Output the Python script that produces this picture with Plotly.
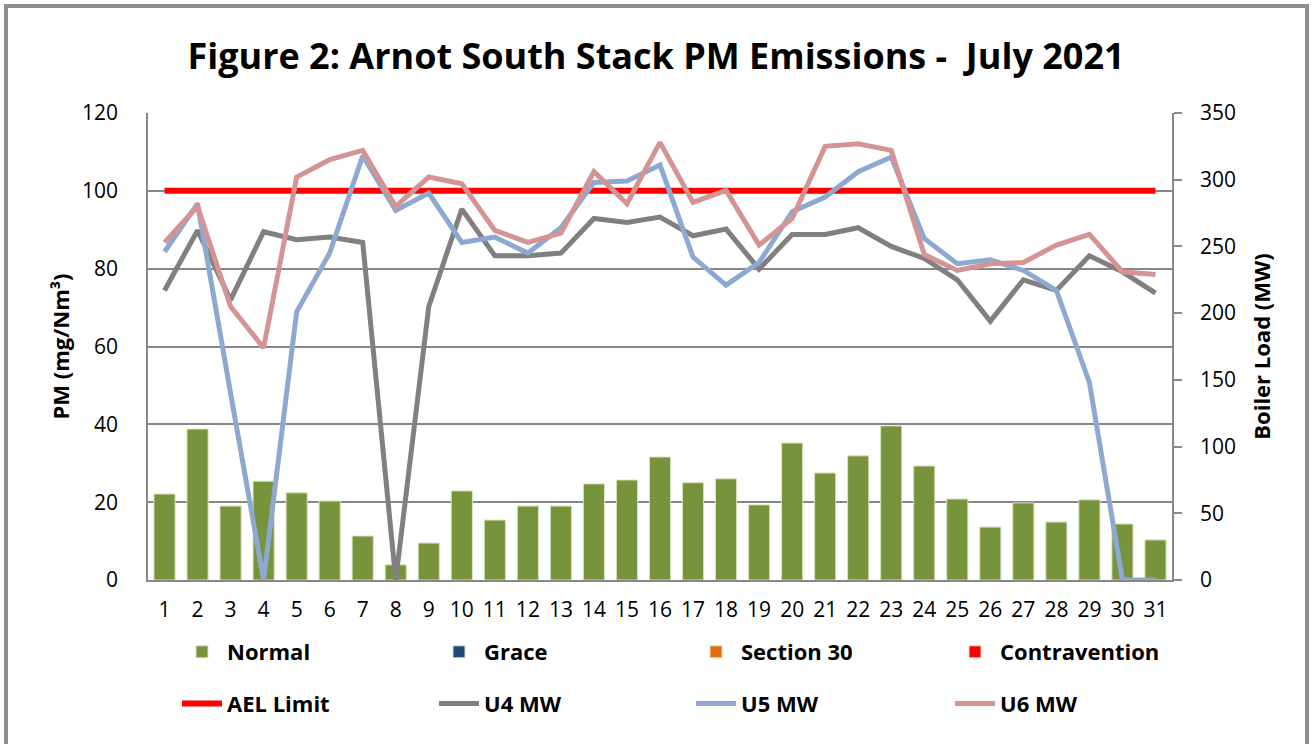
import plotly.graph_objects as go

days = list(range(1, 32))
day_labels = [str(d) for d in days]

normal_pm = [22.1, 38.8, 19.0, 25.4, 22.4, 20.3, 11.3, 3.9, 9.5, 22.9, 15.4, 19.0, 19.0,
             24.7, 25.7, 31.6, 25.0, 26.0, 19.3, 35.2, 27.5, 31.9, 39.6, 29.3, 20.8,
             13.6, 19.8, 14.9, 20.6, 14.4, 10.3]
grace_pm = [None] * 31
section30_pm = [None] * 31
contravention_pm = [None] * 31
ael_limit = [100] * 31

u4_mw = [217, 262, 210, 261, 255, 257, 253, 0, 205, 278, 243, 243, 245, 271, 268, 272,
         258, 263, 233, 259, 259, 264, 250, 241, 225, 194, 225, 217, 243, 231, 215]
u5_mw = [246, 282, 140, 0, 201, 245, 318, 277, 290, 253, 257, 245, 264, 298, 299, 311,
         242, 221, 238, 276, 287, 306, 317, 256, 237, 240, 232, 217, 148, 0, 0]
u6_mw = [253, 280, 205, 174, 302, 315, 322, 280, 302, 297, 262, 253, 260, 306, 282, 328,
         283, 292, 251, 271, 325, 327, 322, 244, 232, 237, 238, 251, 259, 231, 229]

FONT = "Open Sans"
GRID = "#878787"

fig = go.Figure()

bar_specs = [("Normal", normal_pm, "#77933C", "legend"),
             ("Grace", grace_pm, "#1F497D", "legend2"),
             ("Section 30", section30_pm, "#E46C0A", "legend3"),
             ("Contravention", contravention_pm, "#FF0000", "legend4")]
for name, vals, col, lg in bar_specs:
    fig.add_trace(go.Bar(x=days, y=vals, name=name, marker=dict(color=col, line=dict(color="#D7E4BD", width=1)),
                         width=0.64, yaxis="y", legend=lg, legendgroup=name + "g"))

line_specs = [("AEL Limit", ael_limit, "#FF0000", 6, "y", "legend"),
              ("U4 MW", u4_mw, "#808080", 5, "y2", "legend2"),
              ("U5 MW", u5_mw, "#8EA9D1", 5, "y2", "legend3"),
              ("U6 MW", u6_mw, "#D49493", 5, "y2", "legend4")]
for name, vals, col, w, ax, lg in line_specs:
    fig.add_trace(go.Scatter(x=days, y=vals, name=name, mode="lines",
                             line=dict(color=col, width=w), yaxis=ax, legend=lg,
                             legendgroup=name + "g"))

L, R, T, B = 148, 140, 113, 164
PW, PH = 1312 - L - R, 744 - T - B

def px_x(p):
    return (p - L) / PW

def px_y(p):
    return (744 - B - p) / PH

legend_common = dict(orientation="v", xanchor="left", yanchor="top", bgcolor="rgba(0,0,0,0)",
                     font=dict(family=FONT, size=22, color="black", weight="bold"),
                     tracegroupgap=20, traceorder="grouped", itemwidth=40)
legend_cols = [177, 434, 691, 950]
legend_top = 631

fig.update_layout(
    width=1312, height=744,
    margin=dict(l=L, r=R, t=T, b=B),
    paper_bgcolor="white", plot_bgcolor="white",
    barmode="overlay",
    title=dict(text="Figure 2: Arnot South Stack PM Emissions -  July 2021",
               x=0.5, xanchor="center", xref="container", y=1 - 56 / 744, yanchor="middle",
               font=dict(family=FONT, size=36, color="black", weight="bold")),
    xaxis=dict(range=[0.5, 31.5], tickmode="array", tickvals=days, ticktext=day_labels,
               showgrid=False, showline=True, linecolor=GRID, linewidth=1.5, ticks="",
               tickfont=dict(family=FONT, size=21, color="black"), ticklabelstandoff=10,
               zeroline=False),
    yaxis=dict(range=[0, 120], dtick=20, showgrid=True, gridcolor=GRID, gridwidth=1.5,
               showline=True, linecolor=GRID, linewidth=1.5, ticks="",
               tickfont=dict(family=FONT, size=21, color="black"), ticklabelstandoff=24,
               zeroline=False,
               title=dict(text="PM (mg/Nm³)", standoff=6,
                          font=dict(family=FONT, size=22, color="black", weight="bold"))),
    yaxis2=dict(range=[0, 350], dtick=50, overlaying="y", side="right", showgrid=False,
                showline=True, linecolor=GRID, linewidth=1.5, ticks="outside", ticklen=8,
                tickcolor=GRID, tickwidth=1.5,
                tickfont=dict(family=FONT, size=21, color="black"), ticklabelstandoff=14,
                zeroline=False,
                title=dict(text="Boiler Load (MW)", standoff=20,
                           font=dict(family=FONT, size=22, color="black", weight="bold"))),
    legend=dict(x=px_x(legend_cols[0]), y=px_y(legend_top), **legend_common),
    legend2=dict(x=px_x(legend_cols[1]), y=px_y(legend_top), **legend_common),
    legend3=dict(x=px_x(legend_cols[2]), y=px_y(legend_top), **legend_common),
    legend4=dict(x=px_x(legend_cols[3]), y=px_y(legend_top), **legend_common),
    shapes=[dict(type="rect", xref="paper", yref="paper",
                 x0=px_x(6), x1=px_x(1307), y0=px_y(770), y1=px_y(6),
                 line=dict(color="#8E8E8E", width=4), fillcolor="rgba(0,0,0,0)", layer="below")],
)

fig.write_html("out.html", config={"displayModeBar": False},
               post_script="document.body.style.margin='0';")
